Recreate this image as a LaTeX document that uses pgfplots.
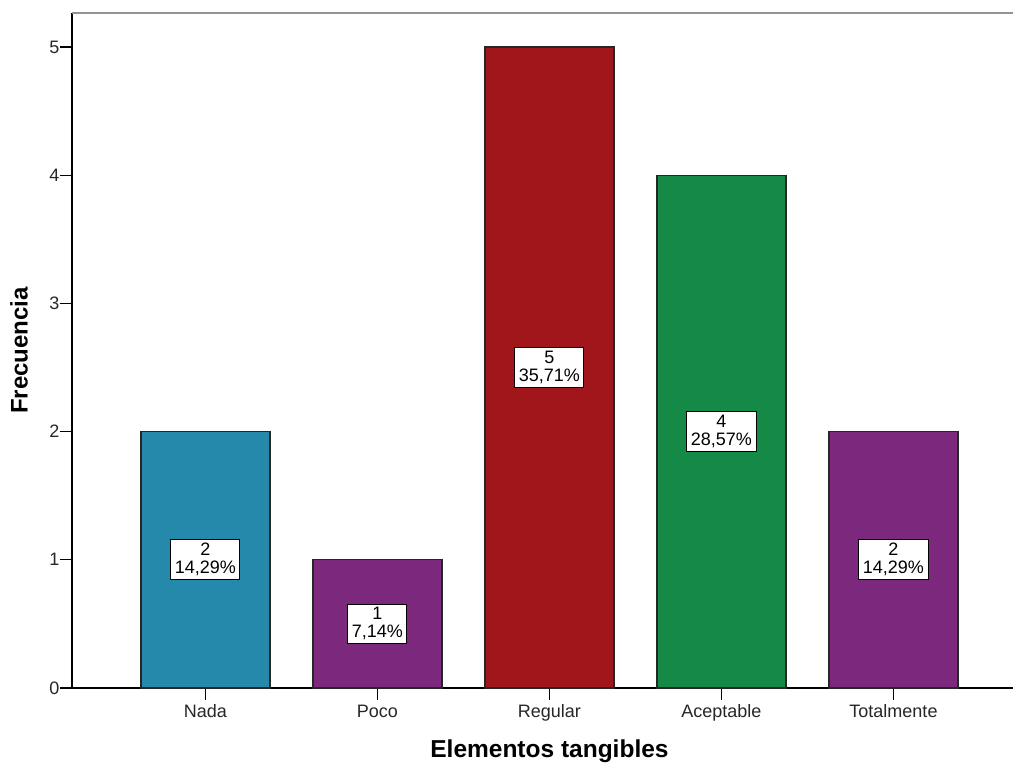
\documentclass[border=0pt]{standalone}
\usepackage{pgfplots}
\pgfplotsset{compat=1.18}
\usepackage{fontspec}
\setmainfont{Liberation Sans}
\definecolor{cNada}{RGB}{36,137,170}
\definecolor{cPoco}{RGB}{124,40,124}
\definecolor{cReg}{RGB}{160,22,27}
\definecolor{cAce}{RGB}{20,138,70}
\begin{document}
\begin{tikzpicture}
\begin{axis}[
  x=172pt, y=128.2pt,
  xmin=-0.776, xmax=4.695, ymin=0, ymax=5.265,
  clip=false,
  axis x line*=bottom, axis y line*=left,
  axis line style={-, line width=1.4pt, black},
  xtick={0,1,2,3,4},
  xticklabels={Nada,Poco,Regular,Aceptable,Totalmente},
  ytick={0,1,2,3,4,5},
  tick align=outside, major tick length=12pt,
  tick style={black, line width=1.3pt},
  ticklabel style={font=\fontsize{18}{19}\selectfont, text=black!85},
  xticklabel style={anchor=base, yshift=-17pt},
  yticklabel style={inner xsep=0.5pt},
  /pgf/number format/assume math mode=true,
  every axis y label/.style={at={(rel axis cs:0,0.5)}, xshift=-53pt, rotate=90, anchor=center, font=\fontsize{24}{26}\selectfont\bfseries},
  every axis x label/.style={at={(axis cs:2,0)}, yshift=-69pt, anchor=base, font=\fontsize{24.5}{26}\selectfont\bfseries},
  ylabel={Frecuencia},
  xlabel={Elementos tangibles},
  ybar, bar width=129pt,
  point meta=explicit symbolic,
  visualization depends on={y \as \rawy},
  nodes near coords={\pgfmathprintnumber{\rawy}\\\pgfplotspointmeta\%},
  every node near coord/.append style={anchor=center, yshift=-64.1*\rawy, fill=white, draw=black, line width=1pt, align=center, inner xsep=4pt, inner ysep=3.5pt, font=\fontsize{18}{18}\selectfont},
]
\addplot[bar shift=0pt, fill=cNada, draw=black!85, line width=1.1pt] coordinates {(0,2) [14,29]};
\addplot[bar shift=0pt, fill=cPoco, draw=black!85, line width=1.1pt] coordinates {(1,1) [7,14]};
\addplot[bar shift=0pt, fill=cReg, draw=black!85, line width=1.1pt] coordinates {(2,5) [35,71]};
\addplot[bar shift=0pt, fill=cAce, draw=black!85, line width=1.1pt] coordinates {(3,4) [28,57]};
\addplot[bar shift=0pt, fill=cPoco, draw=black!85, line width=1.1pt] coordinates {(4,2) [14,29]};
\draw[gray!85, line width=2.6pt] (rel axis cs:0,1) -- (rel axis cs:1,1);
\coordinate (sw) at (rel axis cs:0,0);
\end{axis}
\pgfresetboundingbox
\path (sw) ++(-72pt,-76pt) rectangle ++(1013pt,764pt);
\end{tikzpicture}
\end{document}
